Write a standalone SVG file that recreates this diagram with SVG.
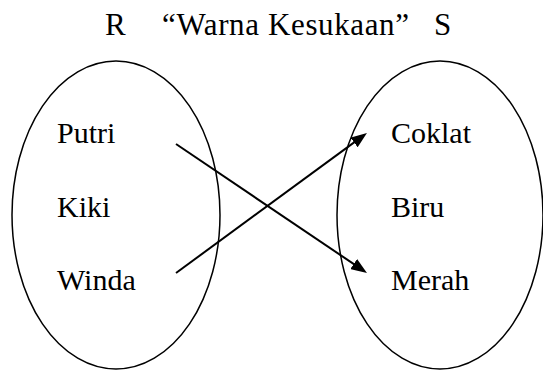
<svg xmlns="http://www.w3.org/2000/svg" width="543" height="371" viewBox="0 0 543 371">
<style>
text{font-family:"Liberation Serif","Times New Roman",serif;font-size:30px;fill:#000}
.title{font-size:31px}
.set{fill:none;stroke:#000;stroke-width:1.5}
.conn{stroke:#000;stroke-width:2;fill:none}
</style>
<defs>
<marker id="ah" markerUnits="userSpaceOnUse" markerWidth="16" markerHeight="12" refX="6" refY="6" orient="auto">
<path d="M0,0 L16,6 L0,12 z" fill="#000"/>
</marker>
</defs>
<rect width="543" height="371" fill="#fff"/>
<g id="title">
<text class="title" x="105" y="35">R</text>
<text class="title" x="162" y="35" textLength="247" lengthAdjust="spacing">“Warna Kesukaan”</text>
<text class="title" x="434" y="35">S</text>
</g>
<g id="setR">
<ellipse class="set" cx="116" cy="215" rx="104" ry="154"/>
<text x="57" y="143">Putri</text>
<text x="57" y="217">Kiki</text>
<text x="57" y="290">Winda</text>
</g>
<g id="setS">
<ellipse class="set" cx="440" cy="215" rx="103" ry="154"/>
<text x="391" y="143">Coklat</text>
<text x="391" y="217">Biru</text>
<text x="391" y="290">Merah</text>
</g>
<g id="connectors">
<line class="conn" x1="176" y1="144" x2="358.7" y2="267.4" marker-end="url(#ah)"/>
<line class="conn" x1="176" y1="273" x2="358.9" y2="138.9" marker-end="url(#ah)"/>
</g>
</svg>
